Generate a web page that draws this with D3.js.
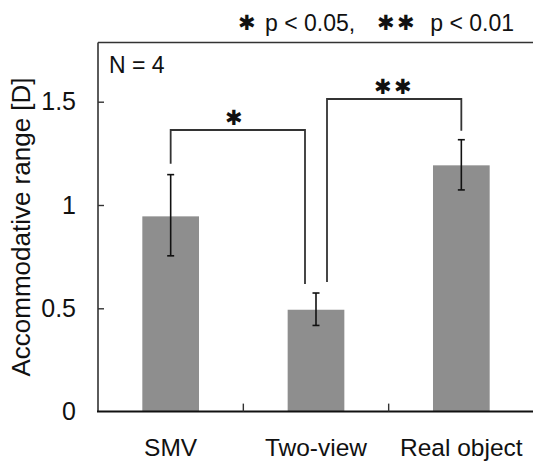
<!DOCTYPE html>
<html><head><meta charset="utf-8">
<script src="https://cdn.jsdelivr.net/npm/d3@7"></script>
<style>
html,body{margin:0;padding:0;background:#fff;}
text{font-family:"Liberation Sans",Arial,sans-serif;fill:#111;}
</style></head>
<body>
<svg id="c" width="533" height="461"></svg>
<script>
const categories = ["SMV", "Two-view", "Real object"];
const means = [0.945, 0.493, 1.192];
const errLow = [0.754, 0.417, 1.073];
const errHigh = [1.147, 0.574, 1.316];
const yTicks = [0, 0.5, 1, 1.5];
const yTickLabels = ["0", "0.5", "1", "1.5"];
const brackets = [
  {from: 0, to: 1, level: 1.363, label: "✱"},
  {from: 1, to: 2, level: 1.513, label: "✱✱"}
];
const legendItems = [
  {stars: "✱", text: "p < 0.05,"},
  {stars: "✱✱", text: "p < 0.01"}
];
const yTitle = "Accommodative range [D]";
const noteText = "N = 4";

(function(){
const svg = d3.select("#c");
const pL = 98, pR = 534, pT = 42.5, pB = 411.6;
const y = d3.scaleLinear().domain([0, 1.5]).range([pB, 101.7]);
const x = d3.scaleBand().domain(categories).range([pL, pR]).paddingInner(0).paddingOuter(0);
const bw = x.bandwidth() * 0.39;
const cx = c => x(c) + x.bandwidth() / 2;

// bars
svg.selectAll("rect.bar").data(categories).enter().append("rect")
  .attr("x", c => cx(c) - bw / 2)
  .attr("width", bw)
  .attr("y", (c, i) => y(means[i]))
  .attr("height", (c, i) => pB - y(means[i]))
  .attr("fill", "#8e8e8e");

// error bars
const eg = svg.append("g").attr("stroke", "#111").attr("stroke-width", 1.6);
categories.forEach((c, i) => {
  eg.append("line").attr("x1", cx(c)).attr("x2", cx(c)).attr("y1", y(errLow[i])).attr("y2", y(errHigh[i]));
  [errLow[i], errHigh[i]].forEach(v => eg.append("line").attr("x1", cx(c) - 3.5).attr("x2", cx(c) + 3.5).attr("y1", y(v)).attr("y2", y(v)));
});

// frame
const fg = svg.append("g").attr("stroke", "#333").attr("stroke-width", 1.6).attr("fill", "none");
fg.append("line").attr("x1", pL).attr("x2", pR).attr("y1", pT).attr("y2", pT);
fg.append("line").attr("x1", pL).attr("x2", pL).attr("y1", pT).attr("y2", pB);
fg.append("line").attr("x1", pL - 1).attr("x2", pR).attr("y1", pB).attr("y2", pB).attr("stroke", "#111").attr("stroke-width", 2);

// y axis (inward ticks)
const yAxis = d3.axisLeft(y).tickValues(yTicks).tickSize(-6).tickPadding(22)
  .tickFormat((d, i) => yTickLabels[i]);
const ya = svg.append("g").attr("transform", `translate(${pL},0)`).call(yAxis);
ya.select(".domain").remove();
ya.selectAll(".tick line").attr("stroke", "#333").attr("stroke-width", 1.4);
ya.selectAll(".tick text").attr("font-size", 25).attr("font-family", "Liberation Sans, Arial, sans-serif").attr("fill", "#111");
ya.selectAll(".tick").filter(d => d === 0).select("line").remove();

// x axis boundary ticks (upward)
const bounds = categories.slice(1).map(c => x(c));
svg.selectAll("line.xb").data(bounds).enter().append("line")
  .attr("x1", d => d).attr("x2", d => d).attr("y1", pB).attr("y2", pB - 8)
  .attr("stroke", "#333").attr("stroke-width", 1.4);

// x labels
svg.selectAll("text.xl").data(categories).enter().append("text")
  .attr("x", c => cx(c)).attr("y", 456).attr("text-anchor", "middle")
  .attr("font-size", 24.5).text(c => c);

// y title
svg.append("text").attr("transform", `translate(30,227) rotate(-90)`)
  .attr("text-anchor", "middle").attr("font-size", 26).text(yTitle);

// N = 4
svg.append("text").attr("x", 109).attr("y", 73).attr("font-size", 23).text(noteText);

// brackets
const off = 11;
const bg = svg.append("g").attr("stroke", "#333").attr("stroke-width", 1.8).attr("fill", "none");
brackets.forEach((b, k) => {
  const x1 = k === 0 ? cx(categories[b.from]) : cx(categories[b.from]) + off;
  const x2 = k === 0 ? cx(categories[b.to]) - off : cx(categories[b.to]);
  const yl = y(b.level);
  const y1 = y(errHigh[b.from]) - 11;
  const y2 = y(errHigh[b.to]) - 9;
  bg.append("path").attr("d", `M${x1},${y1}V${yl}H${x2}V${y2}`);
  svg.append("text").attr("x", (x1 + x2) / 2 + (k === 0 ? -3 : 0)).attr("y", yl - 5).attr("text-anchor", "middle")
    .attr("font-family", "DejaVu Sans").attr("font-size", 21).attr("letter-spacing", 2).text(b.label);
});

// significance legend
const legStarX = [248, 397];
const legTextX = [265, 514];
legendItems.forEach((it, i) => {
  svg.append("text").attr("x", legStarX[i]).attr("y", 30).attr("text-anchor", "middle")
    .attr("font-family", "DejaVu Sans").attr("font-size", 21).attr("letter-spacing", 2).text(it.stars);
  svg.append("text").attr("x", legTextX[i]).attr("y", 31).attr("text-anchor", i === 0 ? "start" : "end")
    .attr("font-size", 23).text(it.text);
});
})();
</script>
</body></html>
